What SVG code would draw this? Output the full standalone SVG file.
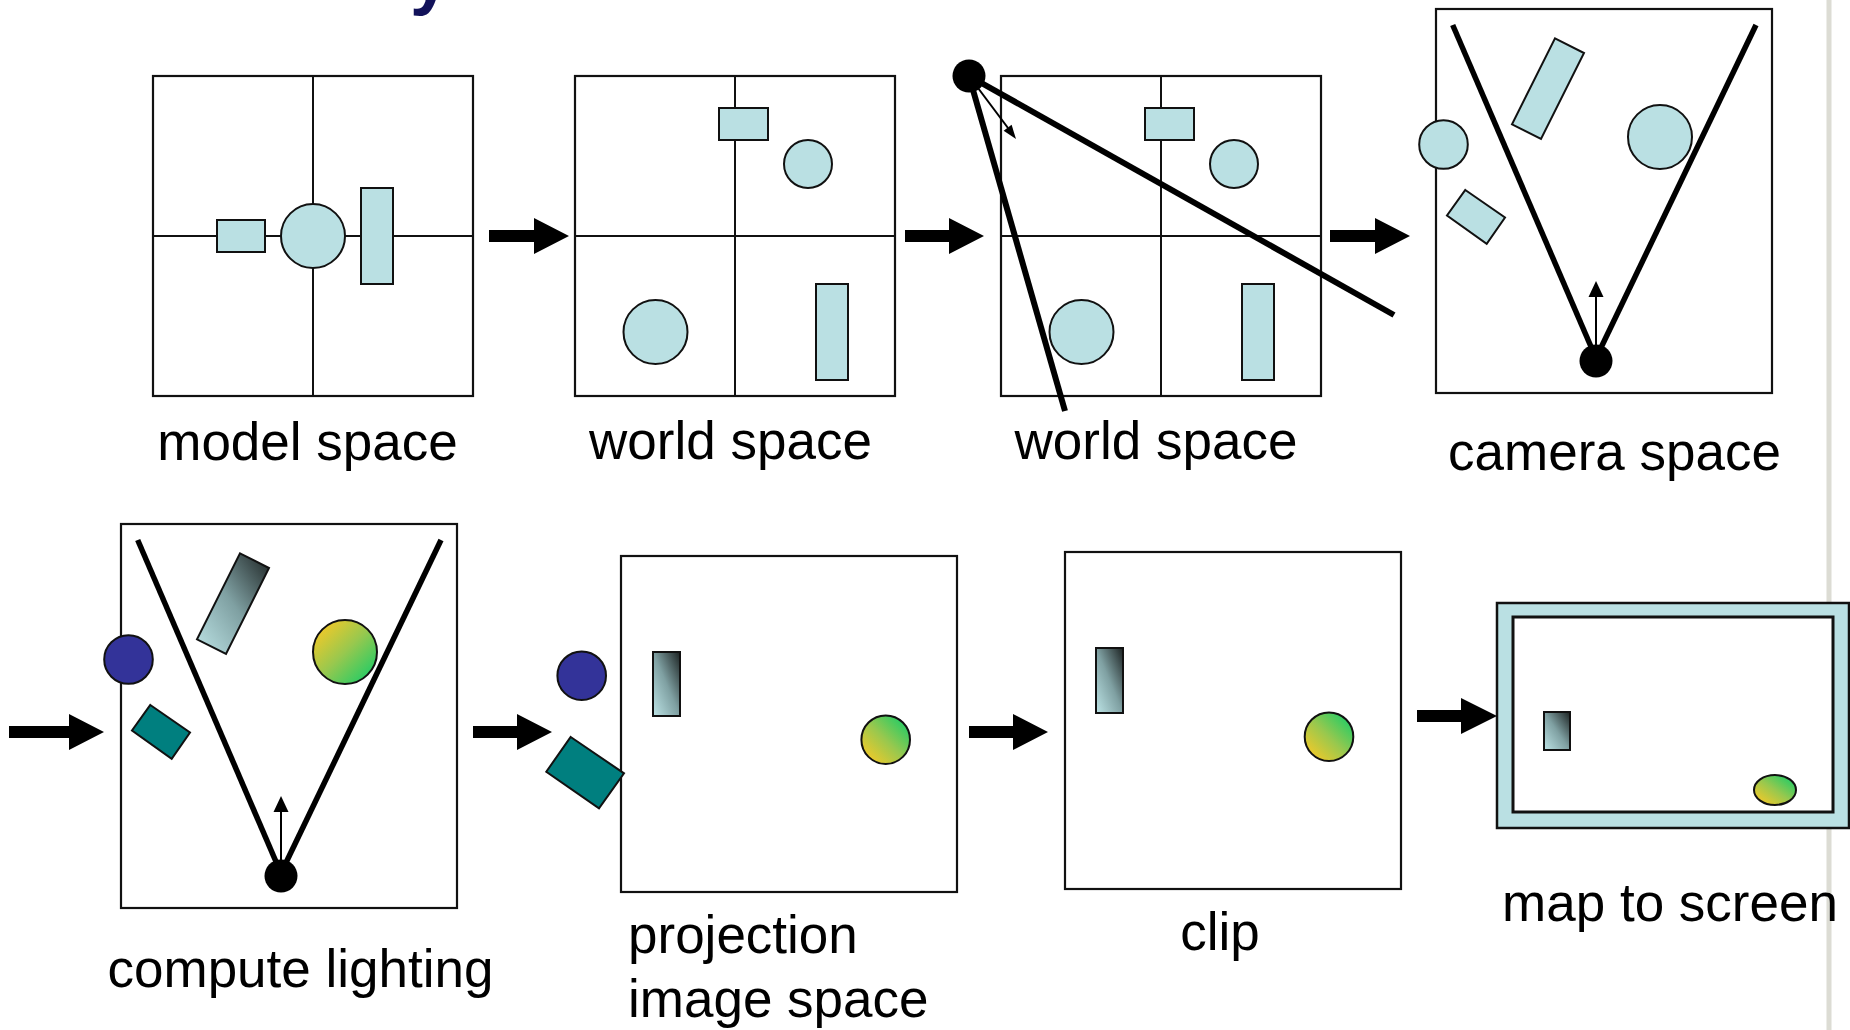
<svg xmlns="http://www.w3.org/2000/svg" width="1850" height="1030" viewBox="0 0 1850 1030">
<style>
.frame{fill:#fff;stroke:#111;stroke-width:2.2}
.axis{stroke:#111;stroke-width:2;fill:none}
.obj{fill:#bae0e3;stroke:#111;stroke-width:2}
.lbl{font-family:"Liberation Sans",Arial,sans-serif;font-size:53px;fill:#000}
.mid{text-anchor:middle}
.ray{stroke:#000;stroke-width:6;fill:none}
.fr{stroke:#000;stroke-width:5.5;fill:none}
.thin{stroke:#000;stroke-width:2;fill:none}
.arrow{fill:#000}
.blue{fill:#333399;stroke:#111;stroke-width:2}
.teal{fill:#007f7f;stroke:#111;stroke-width:2}
.grect{fill:url(#gRect);stroke:#111;stroke-width:2}
.gball{fill:url(#gBall);stroke:#111;stroke-width:2}
.gball2{fill:url(#gBall2);stroke:#111;stroke-width:2}
</style>
<defs>
<linearGradient id="gRect" x1="0" y1="1" x2="1" y2="0">
<stop offset="0" stop-color="#bde4e6"/>
<stop offset="0.5" stop-color="#7fa0a2"/>
<stop offset="1" stop-color="#1c2222"/>
</linearGradient>
<linearGradient id="gBall" x1="0.1" y1="0.1" x2="0.9" y2="0.9">
<stop offset="0" stop-color="#f3c928"/>
<stop offset="0.5" stop-color="#98c84e"/>
<stop offset="1" stop-color="#22cc66"/>
</linearGradient>
<linearGradient id="gBall2" x1="0.1" y1="0.9" x2="0.9" y2="0.1">
<stop offset="0" stop-color="#f3c928"/>
<stop offset="0.5" stop-color="#98c84e"/>
<stop offset="1" stop-color="#22cc66"/>
</linearGradient>
<g id="worldContent">
<rect class="obj" x="719" y="108" width="49" height="32"/>
<circle class="obj" cx="808" cy="164" r="24"/>
<circle class="obj" cx="655.5" cy="332" r="32"/>
<rect class="obj" x="816" y="284" width="32" height="96"/>
</g>
</defs>
<rect x="0" y="0" width="1850" height="1030" fill="#fff"/>
<line x1="1829" y1="0" x2="1829" y2="1030" stroke="#dcdcd4" stroke-width="5"/>
<text x="410" y="1" font-family="Liberation Sans,Arial,sans-serif" font-size="72" font-weight="bold" fill="#12125a">y</text>

<g id="model-space">
<rect class="frame" x="153" y="76" width="320" height="320"/>
<line class="axis" x1="313" y1="76" x2="313" y2="396"/>
<line class="axis" x1="153" y1="236" x2="473" y2="236"/>
<rect class="obj" x="217" y="220" width="48" height="32"/>
<circle class="obj" cx="313" cy="236" r="32"/>
<rect class="obj" x="361" y="188" width="32" height="96"/>
<text class="lbl mid" x="307.5" y="460">model space</text>
</g>

<g id="world-space">
<rect class="frame" x="575" y="76" width="320" height="320"/>
<line class="axis" x1="735" y1="76" x2="735" y2="396"/>
<line class="axis" x1="575" y1="236" x2="895" y2="236"/>
<use href="#worldContent"/>
<text class="lbl mid" x="730.5" y="459">world space</text>
</g>

<g id="world-space-camera">
<rect class="frame" x="1001" y="76" width="320" height="320"/>
<line class="axis" x1="1161" y1="76" x2="1161" y2="396"/>
<line class="axis" x1="1001" y1="236" x2="1321" y2="236"/>
<use href="#worldContent" transform="translate(426,0)"/>
<line class="ray" x1="969" y1="76" x2="1394" y2="315"/>
<line class="ray" x1="969" y1="76" x2="1065" y2="411"/>
<line class="thin" x1="969" y1="76" x2="1008" y2="128"/>
<polygon class="arrow" points="1016,139 1003.6,130.8 1011.6,124.8"/>
<circle cx="969" cy="76" r="16.5" fill="#000"/>
<text class="lbl mid" x="1156" y="459">world space</text>
</g>

<g id="camera-space">
<g transform="translate(1436,9)">
<rect class="frame" x="0" y="0" width="336" height="384" stroke="#222"/>
<polygon class="obj" points="119,29.3 148,44 105,130 76,115.3"/>
<circle class="obj" cx="7.5" cy="135.5" r="24.3"/>
<circle class="obj" cx="224" cy="128" r="32"/>
<polygon class="obj" points="29.3,181 69,208.5 50.7,234.8 11,206.5"/>
<line class="fr" x1="16.7" y1="16" x2="159" y2="347"/>
<line class="fr" x1="320" y1="16" x2="161" y2="347"/>
<line class="thin" x1="160" y1="345" x2="160" y2="286"/>
<polygon class="arrow" points="160,272 152.5,288 167.5,288"/>
<circle cx="160" cy="352" r="16.5" fill="#000"/>
</g>
<text class="lbl mid" x="1614.5" y="470">camera space</text>
</g>

<g id="compute-lighting">
<g transform="translate(121,524)">
<rect class="frame" x="0" y="0" width="336" height="384" stroke="#222"/>
<polygon class="grect" points="119,29.3 148,44 105,130 76,115.3"/>
<circle class="blue" cx="7.5" cy="135.5" r="24.3"/>
<circle class="gball" cx="224" cy="128" r="32"/>
<polygon class="teal" points="29.3,181 69,208.5 50.7,234.8 11,206.5"/>
<line class="fr" x1="16.7" y1="16" x2="159" y2="347"/>
<line class="fr" x1="320" y1="16" x2="161" y2="347"/>
<line class="thin" x1="160" y1="345" x2="160" y2="286"/>
<polygon class="arrow" points="160,272 152.5,288 167.5,288"/>
<circle cx="160" cy="352" r="16.5" fill="#000"/>
</g>
<text class="lbl mid" x="300.5" y="987">compute lighting</text>
</g>

<g id="projection">
<rect class="frame" x="621" y="556" width="336" height="336" stroke="#222"/>
<circle class="blue" cx="581.7" cy="675.7" r="24.3"/>
<polygon class="teal" points="570.7,737 624,773.3 599,808.3 546.3,771.7"/>
<rect class="grect" x="653" y="652" width="27" height="64"/>
<circle class="gball2" cx="885.7" cy="739.7" r="24.3"/>
<text class="lbl" x="628" y="953">projection</text>
<text class="lbl" x="628" y="1017">image space</text>
</g>

<g id="clip">
<rect class="frame" x="1065" y="552" width="336" height="337" stroke="#222"/>
<rect class="grect" x="1096" y="648" width="27" height="65"/>
<circle class="gball2" cx="1329" cy="736.7" r="24.3"/>
<text class="lbl mid" x="1220" y="950">clip</text>
</g>

<g id="map-to-screen">
<rect x="1497" y="603" width="352" height="225" fill="#bae0e3" stroke="#111" stroke-width="2.5"/>
<rect x="1513" y="617" width="320" height="195" fill="#fff" stroke="#111" stroke-width="3"/>
<rect class="grect" x="1544" y="712" width="26" height="38"/>
<ellipse class="gball2" cx="1775" cy="790" rx="21" ry="15"/>
<text class="lbl mid" x="1670" y="921">map to screen</text>
</g>

<g id="connectors">
<path class="arrow" d="M489,230 H534 V218 L569,236 L534,254 V242 H489 Z"/>
<path class="arrow" d="M905,230 H949 V218 L984,236 L949,254 V242 H905 Z"/>
<path class="arrow" d="M1330,230 H1375 V218 L1410,236 L1375,254 V242 H1330 Z"/>
<path class="arrow" d="M9,726 H69 V714 L104,732 L69,750 V738 H9 Z"/>
<path class="arrow" d="M473,726 H517 V714 L552,732 L517,750 V738 H473 Z"/>
<path class="arrow" d="M969,726 H1013 V714 L1048,732 L1013,750 V738 H969 Z"/>
<path class="arrow" d="M1417,710 H1461 V698 L1497,716 L1461,734 V722 H1417 Z"/>
</g>
</svg>
